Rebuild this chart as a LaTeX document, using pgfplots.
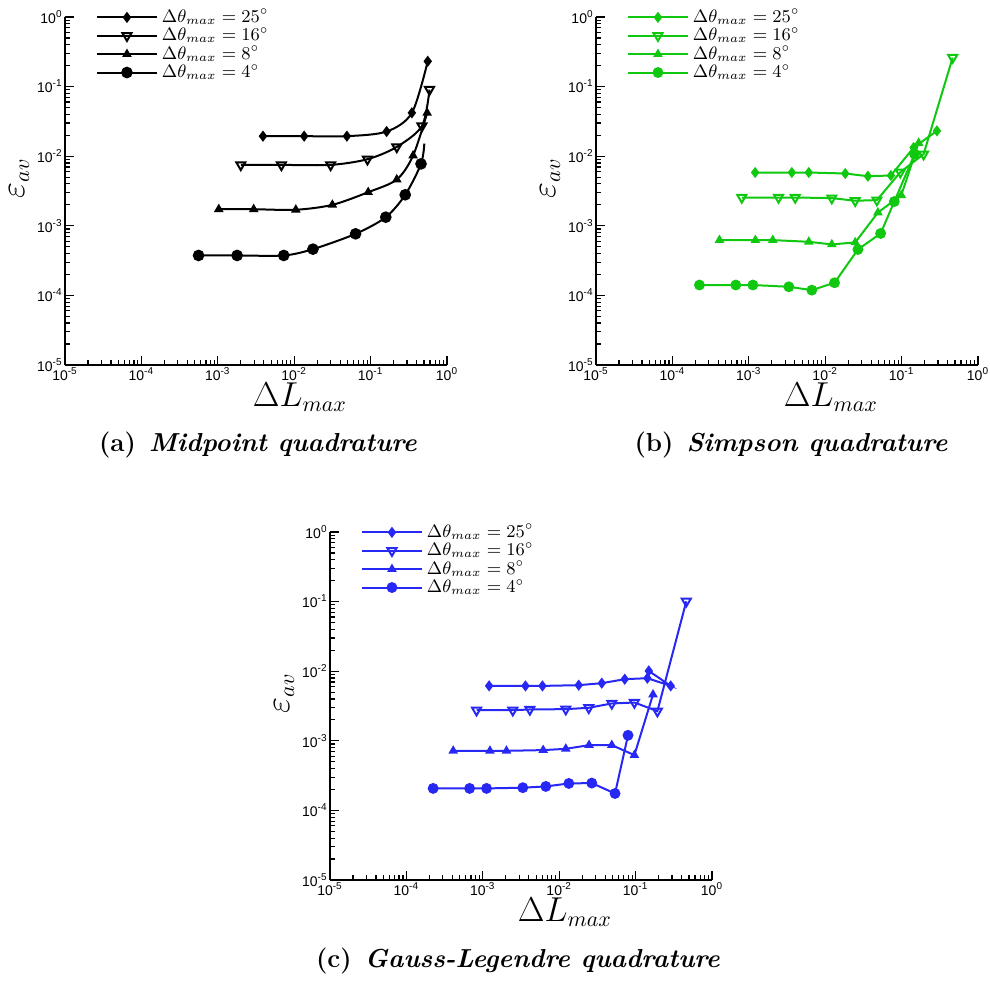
\documentclass[border=0pt]{standalone}
\usepackage{fontspec}
\newfontfamily\tickfont{Liberation Sans}
\usepackage{pgfplots}
\pgfplotsset{compat=1.18}
\definecolor{tgreen}{RGB}{16,200,16}
\definecolor{tblue}{RGB}{40,40,245}
\pgfplotsset{
  scale only axis, width=191pt, height=174pt,
  xmin=1e-5, xmax=1, ymin=1e-5, ymax=1,
  axis x line*=bottom, axis y line*=left,
  axis line style={line width=1pt,-},
  tick align=inside, major tick length=4.5pt, minor tick length=2.5pt,
  tick style={black, line width=0.6pt},
  xtick={1e-5,1e-4,1e-3,1e-2,1e-1,1},
  ytick={1e-5,1e-4,1e-3,1e-2,1e-1,1},
  minor xtick={2e-5,3e-5,4e-5,5e-5,6e-5,7e-5,8e-5,9e-5,2e-4,3e-4,4e-4,5e-4,6e-4,7e-4,8e-4,9e-4,2e-3,3e-3,4e-3,5e-3,6e-3,7e-3,8e-3,9e-3,2e-2,3e-2,4e-2,5e-2,6e-2,7e-2,8e-2,9e-2,0.2,0.3,0.4,0.5,0.6,0.7,0.8,0.9},
  minor ytick={2e-5,3e-5,4e-5,5e-5,6e-5,7e-5,8e-5,9e-5,2e-4,3e-4,4e-4,5e-4,6e-4,7e-4,8e-4,9e-4,2e-3,3e-3,4e-3,5e-3,6e-3,7e-3,8e-3,9e-3,2e-2,3e-2,4e-2,5e-2,6e-2,7e-2,8e-2,9e-2,0.2,0.3,0.4,0.5,0.6,0.7,0.8,0.9},
  xticklabels={{10\textsuperscript{-5}},{10\textsuperscript{-4}},{10\textsuperscript{-3}},{10\textsuperscript{-2}},{10\textsuperscript{-1}},{10\textsuperscript{0}}},
  yticklabels={{10\textsuperscript{-5}},{10\textsuperscript{-4}},{10\textsuperscript{-3}},{10\textsuperscript{-2}},{10\textsuperscript{-1}},{10\textsuperscript{0}}},
  ticklabel style={font=\tickfont\fontsize{7}{8}\selectfont, inner sep=1pt},
  xlabel={$\Delta L_{max}$}, ylabel={$\varepsilon_{av}$},
  label style={font=\fontsize{16}{18}\selectfont},
  xlabel style={at={(axis description cs:0.615,-0.092)}, anchor=center},
  ylabel style={at={(axis description cs:-0.12,0.537)}, anchor=center},
  legend style={draw=none, fill=none, at={(axis description cs:0.08,1.035)}, anchor=north west,
     font=\fontsize{9}{10}\selectfont, row sep=-3pt, inner sep=0pt, cells={anchor=west}},
  legend image code/.code={\draw[mark repeat=2,mark phase=2] plot coordinates {(0pt,0pt) (15pt,0pt) (30pt,0pt)};},
}
\begin{document}
\begin{tikzpicture}
\useasboundingbox (0,0) rectangle (495pt,490.5pt);
% (a)
\begin{axis}[xmode=log, ymode=log, at={(32.5pt,308pt)}, anchor=south west]
\addplot[black, line width=1pt, smooth, mark=diamond*, mark size=2pt] coordinates {(0.0039,0.0194) (0.0135,0.0194) (0.049,0.0194) (0.162,0.0226) (0.347,0.0419) (0.56,0.231)};
\addlegendentry{$\Delta\theta_{max} = 25^\circ$}
\addplot[black, line width=1pt, smooth, mark=triangle, mark size=2.6pt, mark options={rotate=180, fill=white}] coordinates {(0.0020,0.0075) (0.0068,0.0075) (0.030,0.0075) (0.091,0.00905) (0.22,0.0136) (0.47,0.0272) (0.59,0.0906)};
\addlegendentry{$\Delta\theta_{max} = 16^\circ$}
\addplot[black, line width=1pt, smooth, mark=triangle*, mark size=1.8pt] coordinates {(0.00103,0.00173) (0.00295,0.00173) (0.0105,0.0017) (0.0316,0.0020) (0.093,0.00304) (0.22,0.00462) (0.36,0.0102) (0.55,0.0419)};
\addlegendentry{$\Delta\theta_{max} = 8^\circ$}
\addplot[black, line width=1pt, smooth, mark=*, mark size=2.4pt, mark indices={1,2,3,4,5,6,7,8}, legend image post style={mark indices={2}}] coordinates {(0.00056,0.000375) (0.00179,0.000375) (0.0073,0.000375) (0.0176,0.000462) (0.0636,0.000767) (0.158,0.00133) (0.284,0.00279) (0.457,0.00776) (0.505,0.0152)};
\addlegendentry{$\Delta\theta_{max} = 4^\circ$}
\end{axis}
% (b)
\begin{axis}[xmode=log, ymode=log, at={(298pt,308pt)}, anchor=south west]
\addplot[tgreen, line width=1pt, mark=diamond*, mark size=2pt] coordinates {(0.00121,0.00583) (0.00366,0.00583) (0.0061,0.00583) (0.0183,0.00564) (0.0362,0.00516) (0.0724,0.00528) (0.1436,0.0133) (0.290,0.0231)};
\addlegendentry{$\Delta\theta_{max} = 25^\circ$}
\addplot[tgreen, line width=1pt, mark=triangle, mark size=2.6pt, mark options={rotate=180, fill=white}] coordinates {(0.00081,0.00255) (0.00245,0.00255) (0.00405,0.00255) (0.0122,0.0025) (0.0247,0.00229) (0.0475,0.00234) (0.0962,0.00589) (0.194,0.0107) (0.466,0.261)};
\addlegendentry{$\Delta\theta_{max} = 16^\circ$}
\addplot[tgreen, line width=1pt, mark=triangle*, mark size=1.8pt] coordinates {(0.000413,0.000623) (0.00122,0.000623) (0.00206,0.000623) (0.0061,0.000589) (0.0122,0.00054) (0.0247,0.000577) (0.049,0.00155) (0.099,0.00275) (0.167,0.0155)};
\addlegendentry{$\Delta\theta_{max} = 8^\circ$}
\addplot[tgreen, line width=1pt, mark=*, mark size=2.2pt] coordinates {(0.000226,0.000141) (0.000676,0.000141) (0.00113,0.000141) (0.00334,0.000133) (0.00668,0.000119) (0.01324,0.000152) (0.0268,0.000457) (0.0531,0.000776) (0.0802,0.00223) (0.148,0.0107)};
\addlegendentry{$\Delta\theta_{max} = 4^\circ$}
\end{axis}
% (c)
\begin{axis}[xmode=log, ymode=log, at={(165pt,50.5pt)}, anchor=south west]
\addplot[tblue, line width=1pt, mark=diamond*, mark size=2pt] coordinates {(0.00121,0.00615) (0.00362,0.00615) (0.00604,0.00615) (0.0180,0.0063) (0.0361,0.00673) (0.0721,0.00768) (0.1426,0.00794) (0.288,0.00615) (0.1487,0.0101)};
\addlegendentry{$\Delta\theta_{max} = 25^\circ$}
\addplot[tblue, line width=1pt, mark=triangle, mark size=2.6pt, mark options={rotate=180, fill=white}] coordinates {(0.000828,0.00275) (0.00247,0.00275) (0.00413,0.00282) (0.0122,0.00285) (0.0244,0.00298) (0.0488,0.00344) (0.0964,0.00355) (0.193,0.00267) (0.461,0.101)};
\addlegendentry{$\Delta\theta_{max} = 16^\circ$}
\addplot[tblue, line width=1pt, mark=triangle*, mark size=1.8pt] coordinates {(0.00041,0.000718) (0.00124,0.000718) (0.00204,0.000718) (0.00617,0.000735) (0.0122,0.000767) (0.0246,0.000867) (0.0488,0.000867) (0.0964,0.000623) (0.169,0.00462)};
\addlegendentry{$\Delta\theta_{max} = 8^\circ$}
\addplot[tblue, line width=1pt, mark=*, mark size=2.2pt] coordinates {(0.000224,0.000207) (0.000672,0.000207) (0.00112,0.000207) (0.00334,0.000212) (0.00668,0.000221) (0.01337,0.000244) (0.0267,0.000247) (0.0538,0.000175) (0.0796,0.0012)};
\addlegendentry{$\Delta\theta_{max} = 4^\circ$}
\end{axis}
\node[font=\fontsize{13}{15}\selectfont] at (129pt,268pt) {\textbf{(a)}\enspace\textbf{\textit{Midpoint quadrature}}};
\node[font=\fontsize{13}{15}\selectfont] at (395.5pt,268pt) {\textbf{(b)}\enspace\textbf{\textit{Simpson quadrature}}};
\node[font=\fontsize{13}{15}\selectfont] at (259pt,10pt) {\textbf{(c)}\enspace\textbf{\textit{Gauss-Legendre quadrature}}};
\end{tikzpicture}
\end{document}
